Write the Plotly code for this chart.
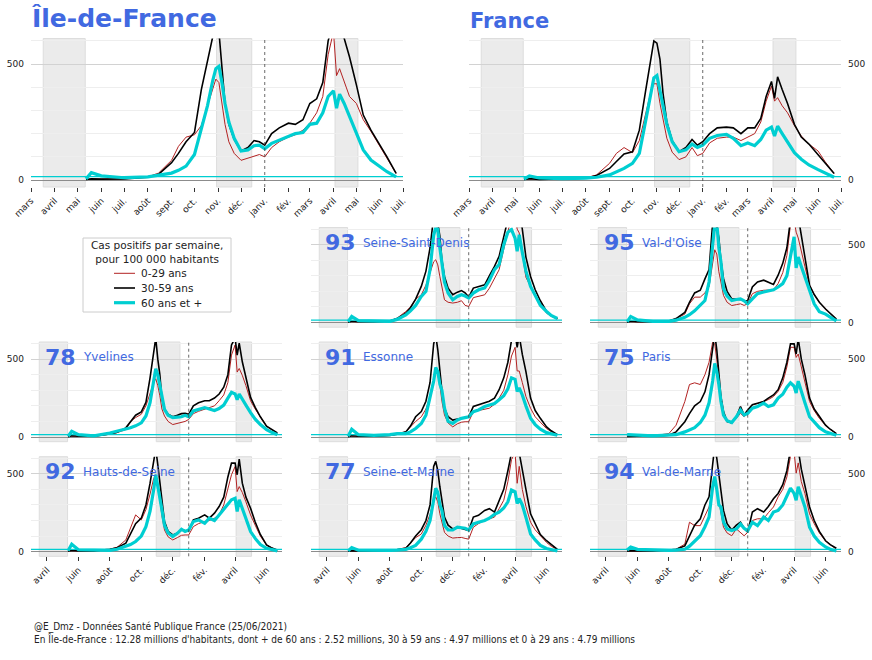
import plotly.graph_objects as go

# ---------------- data (cas positifs / semaine / 100 000 hab.) ----------------
DATES = ["2020-05-12","2020-05-19","2020-06-01","2020-07-01","2020-08-01","2020-08-15","2020-09-01","2020-09-10",
         "2020-09-20","2020-10-01","2020-10-10","2020-10-18","2020-10-25","2020-10-29","2020-11-02","2020-11-06",
         "2020-11-10","2020-11-15","2020-11-22","2020-12-01","2020-12-10","2020-12-18","2020-12-25","2021-01-01",
         "2021-01-10","2021-01-20","2021-02-01","2021-02-10","2021-02-20","2021-03-01","2021-03-10","2021-03-18",
         "2021-03-25","2021-04-01","2021-04-05","2021-04-09","2021-04-15","2021-04-22","2021-05-01","2021-05-10",
         "2021-05-20","2021-06-01","2021-06-10","2021-06-22"]

IDF_0_29  = [2,4,4,5,14,30,85,145,185,195,235,320,400,435,420,330,240,165,115,85,95,105,110,100,140,165,185,195,215,245,290,360,540,640,450,480,420,360,330,260,210,145,95,28]
IDF_30_59 = [2,5,4,5,12,25,75,115,165,205,390,520,630,680,640,480,330,240,175,125,140,170,165,150,200,225,245,240,260,330,350,420,600,680,620,680,610,530,410,280,215,150,100,29]
IDF_60P   = [5,32,18,10,14,20,30,42,60,110,215,320,430,480,490,420,330,250,180,125,130,148,150,135,158,172,190,200,205,240,245,290,360,385,310,370,330,273,200,130,86,57,36,14]

FRA_0_29  = [2,5,3,4,9,22,72,115,140,118,170,280,380,415,415,330,260,180,120,88,100,140,105,115,160,180,185,185,170,185,200,250,340,405,340,355,320,290,235,190,155,125,80,28]
FRA_30_59 = [2,6,3,4,8,20,50,80,112,122,215,380,520,600,590,520,374,250,170,122,140,175,150,165,200,225,228,225,200,225,225,265,360,425,352,445,390,330,240,185,155,110,75,28]
FRA_60P   = [4,18,9,6,8,12,22,35,50,72,115,250,370,440,450,380,316,240,165,122,130,155,140,150,180,192,197,180,148,160,148,175,215,228,190,232,200,165,118,90,65,45,30,12]

D93_0_29  = [2,6,4,5,10,28,71,100,150,178,240,320,390,403,370,296,230,146,130,125,130,140,110,103,160,170,178,220,280,339,470,600,680,690,600,575,450,290,232,175,130,60,42,24]
D93_30_59 = [2,8,5,5,10,25,60,95,150,232,330,480,680,720,640,554,400,296,220,178,195,205,190,163,221,232,242,300,360,425,560,680,760,770,700,720,600,420,296,210,140,71,45,24]
D93_60P   = [5,39,12,8,8,20,49,75,110,167,200,340,560,610,600,480,380,260,190,146,167,178,170,157,189,210,222,270,340,372,500,580,597,540,457,564,450,330,232,170,110,71,45,26]

D95_0_29  = [2,6,4,5,10,25,54,120,163,163,190,230,400,467,440,326,260,174,130,109,115,120,110,120,185,200,207,207,210,250,320,430,630,660,580,543,450,360,239,180,130,87,60,22]
D95_30_59 = [2,8,5,5,10,25,65,130,190,207,280,340,640,700,620,543,400,283,200,152,150,148,140,141,228,261,272,260,245,304,380,480,660,700,660,680,560,400,239,180,130,87,60,22]
D95_60P   = [5,39,17,7,7,15,33,50,75,115,141,260,500,630,640,480,391,217,170,141,148,152,140,120,152,185,196,205,210,228,250,300,420,550,350,420,360,290,196,120,70,54,35,11]

D78_0_29  = [2,6,4,5,18,28,48,100,125,146,200,280,350,374,330,265,180,135,100,80,88,95,100,113,150,165,178,185,200,233,270,350,526,591,417,440,396,330,233,180,130,70,50,22]
D78_30_59 = [2,8,5,5,20,30,59,100,140,161,222,380,560,635,500,400,243,180,146,130,140,150,152,146,200,220,233,233,250,276,320,400,591,635,526,602,483,380,254,190,130,70,50,26]
D78_60P   = [5,37,15,8,26,37,48,60,72,91,135,220,360,439,400,330,250,178,140,124,128,130,139,130,167,178,189,180,170,183,205,250,287,276,239,276,240,205,157,115,80,48,32,15]

D91_0_29  = [2,6,4,5,10,18,33,65,100,130,180,260,380,424,400,337,230,141,90,65,85,95,98,98,163,170,174,185,210,250,300,400,520,576,424,424,350,260,185,130,95,54,35,15]
D91_30_59 = [2,8,5,5,10,18,33,70,130,163,230,350,598,652,560,424,300,185,130,109,115,120,125,130,196,207,217,230,250,304,380,480,620,663,576,652,530,420,250,170,120,65,40,15]
D91_60P   = [5,50,15,11,15,22,22,33,55,87,140,250,359,446,420,340,300,185,100,87,109,120,125,130,163,174,196,205,215,239,265,310,380,370,293,315,270,200,120,80,50,28,20,11]

D75_0_29  = [3,5,5,8,22,76,228,337,348,337,400,480,609,598,500,359,250,141,100,87,120,152,130,163,207,215,228,240,260,293,350,450,576,576,511,533,450,360,228,170,120,76,50,22]
D75_30_59 = [3,5,5,5,12,33,98,150,200,228,290,400,576,663,560,380,260,163,100,93,130,196,141,174,207,217,228,250,270,304,380,480,598,598,533,630,500,400,250,180,130,76,50,22]
D75_60P   = [15,15,12,8,10,15,33,45,60,93,140,220,360,472,420,337,230,141,105,93,130,174,141,152,185,196,217,196,207,250,275,320,348,326,283,359,290,220,130,95,60,33,22,11]

D92_0_29  = [2,6,4,5,15,28,75,150,236,204,270,370,470,494,420,333,230,139,95,75,90,105,107,107,161,180,193,200,215,236,300,400,494,547,386,418,380,320,236,170,100,43,25,6]
D92_30_59 = [2,8,5,5,15,25,54,110,180,215,300,440,590,660,560,440,300,193,130,107,118,139,135,133,204,215,236,215,247,290,350,480,569,569,494,595,440,350,279,190,110,43,25,11]
D92_60P   = [5,47,12,8,8,15,32,45,65,100,160,260,397,494,420,330,270,170,120,97,118,144,129,139,193,204,182,215,200,236,270,305,333,343,258,333,280,220,129,85,45,21,12,5]

D77_0_29  = [2,5,4,4,8,14,26,55,90,113,170,240,330,352,320,243,180,124,100,87,90,91,85,80,157,180,200,210,222,276,330,450,591,635,439,548,400,290,189,140,100,59,35,13]
D77_30_59 = [2,6,4,4,8,12,22,55,100,141,200,300,548,580,520,417,320,222,170,146,157,150,145,135,222,233,265,276,254,330,400,520,635,657,620,635,520,400,243,180,110,70,45,15]
D77_60P   = [5,26,9,6,8,10,15,25,40,80,130,200,352,407,380,300,265,167,140,139,157,152,150,139,178,189,200,215,240,254,280,320,396,385,309,341,300,220,113,75,40,20,12,4]

D94_0_29  = [3,5,4,5,10,15,48,189,167,167,230,287,400,439,400,330,250,157,120,102,146,120,102,124,200,211,211,250,287,352,400,480,613,645,504,570,450,374,243,180,120,70,45,15]
D94_30_59 = [3,6,5,5,10,15,37,100,170,211,300,352,635,680,600,504,380,265,180,139,170,189,150,124,254,276,254,290,340,374,430,520,656,720,660,656,530,417,287,200,130,70,45,22]
D94_60P   = [10,30,15,10,8,10,15,35,65,102,160,222,417,483,400,300,287,190,146,135,146,178,150,135,189,167,222,200,254,265,300,352,407,374,330,417,350,287,157,100,60,30,15,4]

TOP_TICKVALS = ["2020-03-01","2020-04-01","2020-05-01","2020-06-01","2020-07-01","2020-08-01","2020-09-01",
                "2020-10-01","2020-11-01","2020-12-01","2021-01-01","2021-02-01","2021-03-01","2021-04-01",
                "2021-05-01","2021-06-01","2021-07-01"]
TOP_TICKTEXT = ["mars","avril","mai","juin","juil.","août","sept.","oct.","nov.","déc.","janv.","fév.",
                "mars","avril","mai","juin","juil."]
DEP_TICKVALS = ["2020-04-01","2020-06-01","2020-08-01","2020-10-01","2020-12-01","2021-02-01","2021-04-01","2021-06-01"]
DEP_TICKTEXT = ["avril","juin","août","oct.","déc.","fév.","avril","juin"]

LOCKDOWNS = [("2020-03-17","2020-05-11"),("2020-10-30","2020-12-15"),("2021-04-03","2021-05-03")]
SERIES_NAMES = ["0-29 ans","30-59 ans","60 ans et +"]
LEGEND_TITLE = "Cas positifs par semaine,<br>pour 100 000 habitants"

# ---------------- layout helpers ----------------
W, H = 872, 660
def fx(px): return px / W
def fy(py): return 1 - py / H

BLUE = "#4169E1"
COLORS = ["#b22222", "#000000", "#00CED1"]
WIDTHS = [1.0, 1.6, 3.2]
FONT = "DejaVu Sans"

panels = [
    dict(code=None, name="Île-de-France", data=(IDF_0_29, IDF_30_59, IDF_60P), px=(31, 403), py=(38.5, 187), yside="left", xt="top"),
    dict(code=None, name="France", data=(FRA_0_29, FRA_30_59, FRA_60P), px=(469, 841), py=(38.5, 187), yside="right", xt="top"),
    dict(code="93", name="Seine-Saint-Denis", data=(D93_0_29, D93_30_59, D93_60P), px=(311, 562), py=(227.5, 327.2), yside=None, xt=None),
    dict(code="95", name="Val-d'Oise", data=(D95_0_29, D95_30_59, D95_60P), px=(590, 841), py=(227.5, 327.2), yside="right", xt=None),
    dict(code="78", name="Yvelines", data=(D78_0_29, D78_30_59, D78_60P), px=(31, 282), py=(342, 441.7), yside="left", xt=None),
    dict(code="91", name="Essonne", data=(D91_0_29, D91_30_59, D91_60P), px=(311, 562), py=(342, 441.7), yside=None, xt=None),
    dict(code="75", name="Paris", data=(D75_0_29, D75_30_59, D75_60P), px=(590, 841), py=(342, 441.7), yside="right", xt=None),
    dict(code="92", name="Hauts-de-Seine", data=(D92_0_29, D92_30_59, D92_60P), px=(31, 282), py=(456.7, 556.3), yside="left", xt="dep"),
    dict(code="77", name="Seine-et-Marne", data=(D77_0_29, D77_30_59, D77_60P), px=(311, 562), py=(456.7, 556.3), yside=None, xt="dep"),
    dict(code="94", name="Val-de-Marne", data=(D94_0_29, D94_30_59, D94_60P), px=(590, 841), py=(456.7, 556.3), yside="right", xt="dep"),
]

fig = go.Figure()
layout = dict(
    width=W, height=H, margin=dict(l=0, r=0, t=0, b=0, autoexpand=False),
    paper_bgcolor="white", plot_bgcolor="white",
    font=dict(family=FONT, size=9, color="#222"),
    showlegend=False,
)
shapes, annotations = [], []

for i, p in enumerate(panels):
    n = "" if i == 0 else str(i + 1)
    xa, ya = "x" + n, "y" + n
    for k in range(3):
        fig.add_trace(go.Scatter(
            x=DATES, y=p["data"][k], mode="lines", name=SERIES_NAMES[k],
            line=dict(color=COLORS[k], width=WIDTHS[k]),
            xaxis=xa, yaxis=ya, showlegend=False, hoverinfo="skip"))

    xaxis = dict(domain=[fx(p["px"][0]), fx(p["px"][1])], anchor=ya, type="date",
                 range=["2020-03-01", "2021-07-01"], showgrid=False, zeroline=False,
                 showline=False, fixedrange=True, automargin=False)
    if p["xt"] == "top":
        xaxis.update(tickvals=TOP_TICKVALS, ticktext=TOP_TICKTEXT, ticks="outside", ticklen=4,
                     tickcolor="#333", tickangle=-45, tickfont=dict(size=9, color="#222"))
    elif p["xt"] == "dep":
        xaxis.update(tickvals=DEP_TICKVALS, ticktext=DEP_TICKTEXT, ticks="outside", ticklen=4,
                     tickcolor="#333", tickangle=-45, tickfont=dict(size=9, color="#222"))
    else:
        xaxis.update(showticklabels=False, ticks="")
    yaxis = dict(domain=[fy(p["py"][1]), fy(p["py"][0])], anchor=xa, range=[-30, 610],
                 tickvals=[0, 500], ticktext=["0", "500"], showgrid=True, gridcolor="#d2d2d2",
                 gridwidth=1, zeroline=True, zerolinecolor="#8c8c8c", zerolinewidth=1,
                 minor=dict(tickvals=[100, 200, 300, 400, 600], showgrid=True, gridcolor="#eeeeee", ticks=""),
                 ticks="", fixedrange=True, automargin=False,
                 tickfont=dict(size=9, color="#222"), ticklabelstandoff=6)
    if p["yside"] is None:
        yaxis.update(showticklabels=False)
    else:
        yaxis.update(side=p["yside"])
    layout["xaxis" + n] = xaxis
    layout["yaxis" + n] = yaxis

    for a, b in LOCKDOWNS:
        shapes.append(dict(type="rect", xref=xa, yref=ya + " domain", x0=a, x1=b, y0=0, y1=1,
                           fillcolor="#ebebeb", line=dict(color="#dddddd", width=1), layer="below"))
    shapes.append(dict(type="line", xref=xa, yref=ya + " domain", x0="2021-01-01", x1="2021-01-01",
                       y0=0, y1=1, line=dict(color="#444", width=0.8, dash="dot")))
    shapes.append(dict(type="line", xref=xa + " domain", yref=ya, x0=0, x1=1, y0=15, y1=15,
                       line=dict(color="#00CED1", width=1.2)))

    if p["code"] is None:
        size = 25 if i == 0 else 21
        base = 28.5 if i == 0 else 30
        annotations.append(dict(text="<b>%s</b>" % p["name"], xref="paper", yref="paper",
                                x=fx(p["px"][0] - 1), y=fy(base), xanchor="left", yanchor="bottom",
                                yshift=-size * 0.24, showarrow=False, font=dict(size=size, color=BLUE, family=FONT)))
    else:
        top = p["py"][0]
        annotations.append(dict(text="<b>%s</b>" % p["code"], xref="paper", yref="paper",
                                x=fx(p["px"][0] + 12), y=fy(top + 15), xanchor="left", yanchor="middle",
                                showarrow=False, font=dict(size=22, color=BLUE, family=FONT)))
        annotations.append(dict(text=p["name"], xref="paper", yref="paper",
                                x=fx(p["px"][0] + 50), y=fy(top + 15), xanchor="left", yanchor="middle",
                                showarrow=False, font=dict(size=12, color=BLUE, family=FONT)))

# ---------------- manual legend ----------------
shapes.append(dict(type="rect", xref="paper", yref="paper", x0=fx(83), x1=fx(231), y0=fy(312), y1=fy(238),
                   fillcolor="white", line=dict(color="#cccccc", width=1), layer="above"))
annotations.append(dict(text=LEGEND_TITLE, xref="paper", yref="paper", x=fx(157), y=fy(252),
                        xanchor="center", yanchor="middle", showarrow=False,
                        font=dict(size=10.5, color="#222", family=FONT)))
for k in range(3):
    yy = 273.3 + 14.7 * k
    shapes.append(dict(type="line", xref="paper", yref="paper", x0=fx(114), x1=fx(135), y0=fy(yy), y1=fy(yy),
                       line=dict(color=COLORS[k], width=WIDTHS[k]), layer="above"))
    annotations.append(dict(text=SERIES_NAMES[k], xref="paper", yref="paper", x=fx(139), y=fy(yy),
                            xanchor="left", yanchor="middle", showarrow=False,
                            font=dict(size=10.5, color="#222", family=FONT)))

annotations.append(dict(
    text="@E_Dmz - Données Santé Publique France (25/06/2021)<br>En Île-de-France : 12.28 millions d'habitants, dont + de 60 ans : 2.52 millions, 30 à 59 ans : 4.97 millions et 0 à 29 ans : 4.79 millions",
    xref="paper", yref="paper", x=fx(32), y=fy(619), xanchor="left", yanchor="top", align="left",
    showarrow=False, font=dict(size=10, color="#222", family="DejaVu Sans Condensed, Liberation Sans Narrow, Liberation Sans")))

layout["shapes"] = shapes
layout["annotations"] = annotations

fig.update_layout(**layout)
fig.write_html("out.html", config={"displayModeBar": False},
               post_script="document.body.style.margin='0';")
